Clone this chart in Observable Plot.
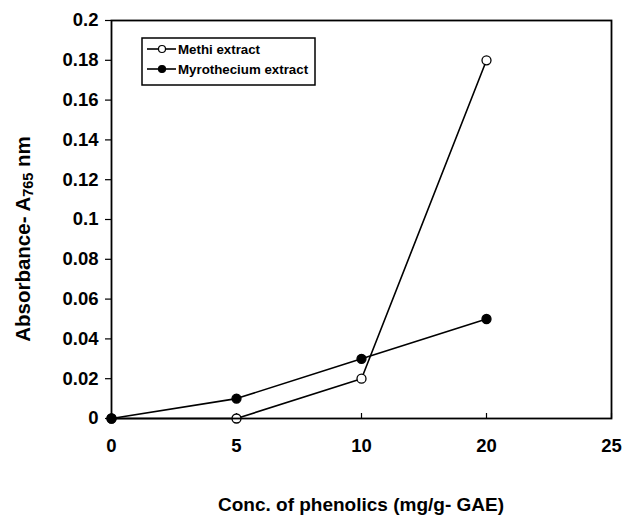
<!DOCTYPE html>
<html><head><meta charset="utf-8">
<script src="https://cdn.jsdelivr.net/npm/d3@7"></script>
<script src="https://cdn.jsdelivr.net/npm/@observablehq/plot@0.6"></script>
<style>
body{margin:0;background:#fff;}
#chart{position:relative;width:622px;height:517px;}
</style>
</head><body><div id="chart"></div>
<script>
// categorical x positions (equally spaced in the original)
const xTickLabels = ["0", "5", "10", "20", "25"];
const concentrations = ["0", "5", "10", "20"];
const methiValues = [0, 0, 0.02, 0.18];
const myroValues = [0, 0.01, 0.03, 0.05];
const seriesNames = ["Methi extract", "Myrothecium extract"];
const yTicks = [0, 0.02, 0.04, 0.06, 0.08, 0.1, 0.12, 0.14, 0.16, 0.18, 0.2];
const xTitle = "Conc. of phenolics (mg/g- GAE)";

const rows = [
  ...concentrations.map((c, i) => ({series: seriesNames[0], x: c, y: methiValues[i]})),
  ...concentrations.map((c, i) => ({series: seriesNames[1], x: c, y: myroValues[i]}))
];
const fills = {[seriesNames[0]]: "white", [seriesNames[1]]: "black"};

const font = "'Liberation Sans', Arial, sans-serif";
const plot = Plot.plot({
  width: 622, height: 517,
  marginLeft: 111, marginRight: 11, marginTop: 20, marginBottom: 99,
  style: {fontFamily: font, fontWeight: "bold", color: "black", background: "white", overflow: "visible"},
  x: {type: "point", domain: xTickLabels, padding: 0},
  y: {domain: [0, 0.2]},
  marks: [
    Plot.axisY({ticks: yTicks, tickSize: 6, tickPadding: 7, tickFormat: d => String(+d.toFixed(2)), label: null, fontSize: 18.5, strokeWidth: 1.2}),
    Plot.axisX({tickSize: 0, tickPadding: 20, label: null, fontSize: 18.5}),
    Plot.tickX(xTickLabels, {x: d => d, insetTop: 393, stroke: "black", strokeWidth: 1.2}),
    Plot.line(rows, {x: "x", y: "y", z: "series", stroke: "black", strokeWidth: 1.6}),
    Plot.dot(rows, {x: "x", y: "y", r: 4.5, fill: d => fills[d.series], stroke: "black", strokeWidth: 1.3}),
    Plot.frame({stroke: "black", strokeWidth: 1.8})
  ]
});
document.getElementById("chart").appendChild(plot);

const svg = d3.select(plot);
// x title
svg.append("text")
  .attr("x", 361).attr("y", 511)
  .attr("text-anchor", "middle")
  .attr("font-family", font).attr("font-weight", "bold").attr("font-size", 19)
  .attr("fill", "black")
  .text(xTitle);
// y title with subscript
const yt = svg.append("text")
  .attr("transform", "translate(30,239) rotate(-90)")
  .attr("text-anchor", "middle")
  .attr("font-family", font).attr("font-weight", "bold").attr("font-size", 20.5)
  .attr("fill", "black");
yt.append("tspan").text("Absorbance- A");
yt.append("tspan").attr("font-size", 14.5).attr("dy", 3).text("765");
yt.append("tspan").attr("dy", -3).text(" nm");

// legend
const lg = svg.append("g").attr("font-family", font).attr("font-weight", "bold").attr("font-size", 13.3).attr("text-anchor", "start");
lg.append("rect").attr("x", 142).attr("y", 38).attr("width", 173).attr("height", 47)
  .attr("fill", "white").attr("stroke", "black").attr("stroke-width", 1.5);
seriesNames.forEach((name, i) => {
  const cy = 49 + i * 20;
  lg.append("line").attr("x1", 147).attr("x2", 176).attr("y1", cy).attr("y2", cy)
    .attr("stroke", "black").attr("stroke-width", 1.6);
  lg.append("circle").attr("cx", 162).attr("cy", cy).attr("r", 3.5)
    .attr("fill", fills[name]).attr("stroke", "black").attr("stroke-width", 1.2);
  lg.append("text").attr("x", 178).attr("y", cy + 5).attr("text-anchor", "start").attr("fill", "black").text(name);
});
</script>
</body></html>
